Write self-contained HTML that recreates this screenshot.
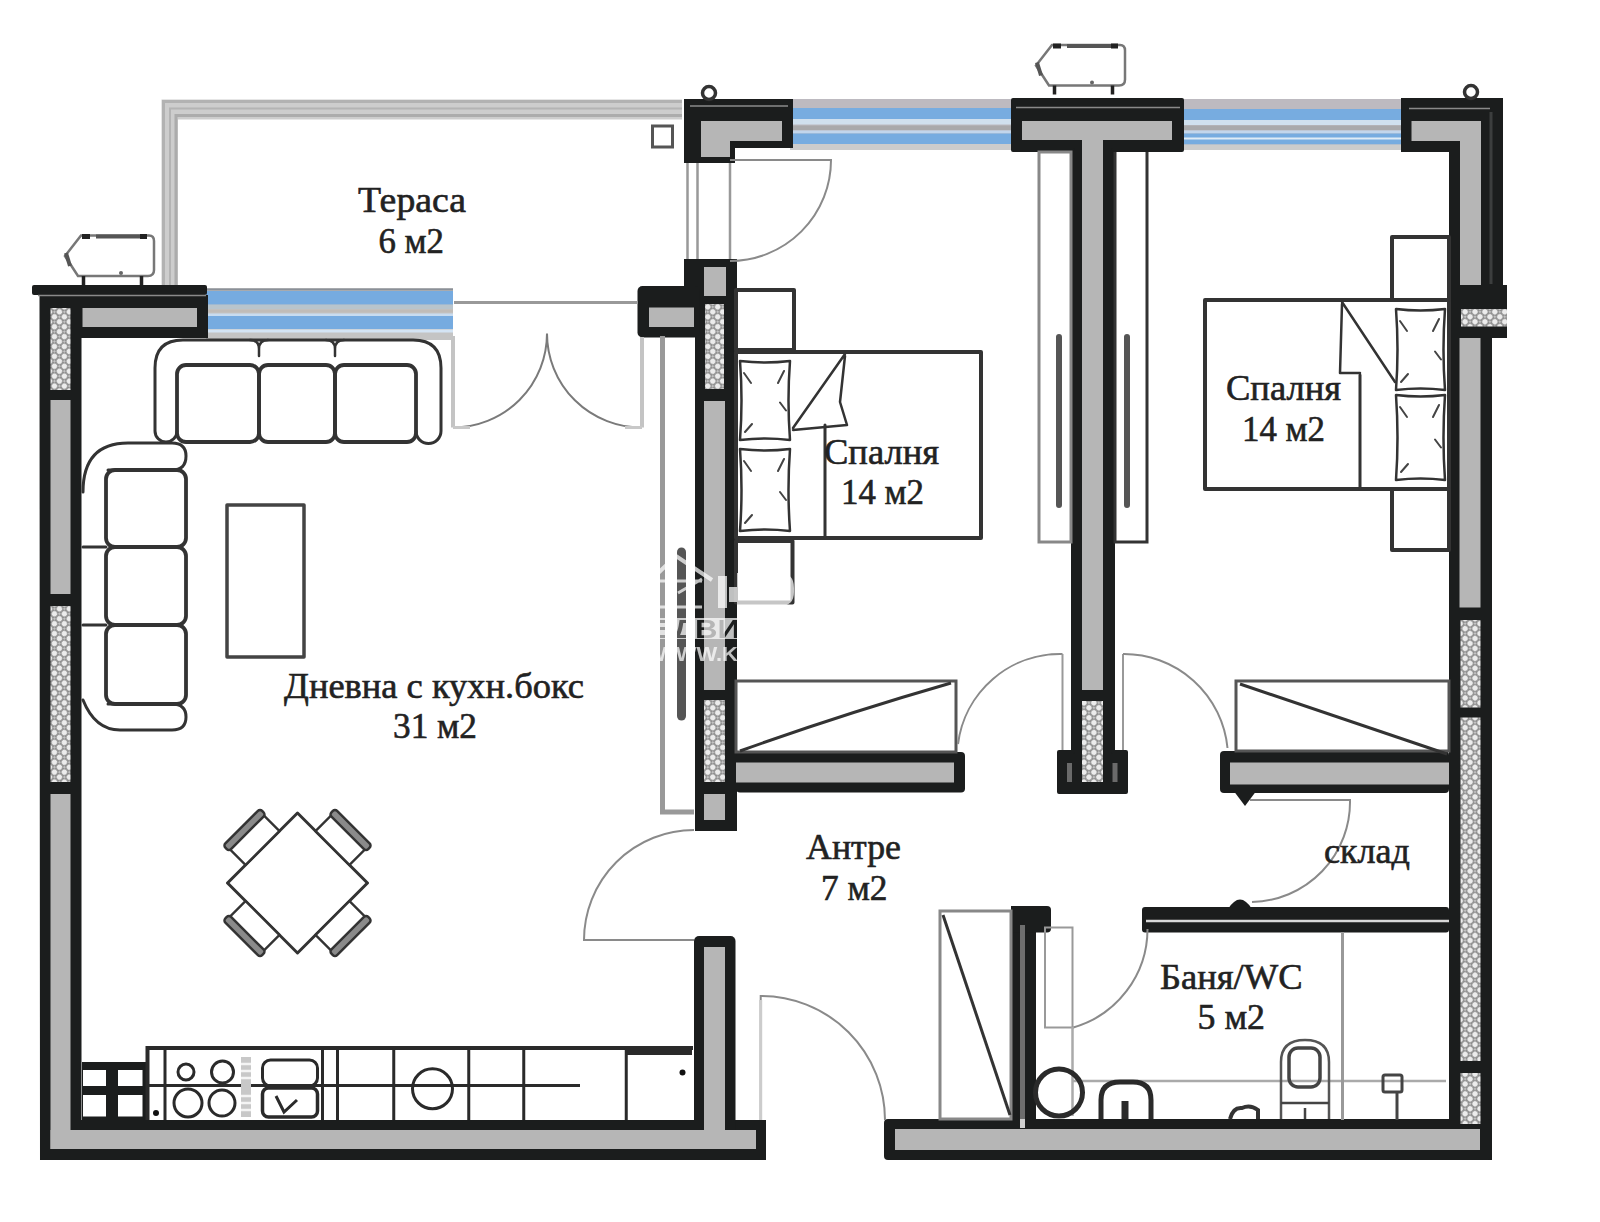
<!DOCTYPE html>
<html><head><meta charset="utf-8">
<style>
html,body{margin:0;padding:0;background:#fff;width:1600px;height:1222px;overflow:hidden}
svg{display:block}
text{font-family:"Liberation Serif",serif;fill:#222}
</style></head>
<body>
<svg width="1600" height="1222" viewBox="0 0 1600 1222">
<defs>
<pattern id="h" width="7" height="7" patternUnits="userSpaceOnUse" patternTransform="rotate(45)">
<rect width="7" height="7" fill="#8e8e8e"/>
<circle cx="3.5" cy="3.5" r="2.7" fill="#ececec"/>
<circle cx="0" cy="0" r="1.1" fill="#cfcfcf"/><circle cx="7" cy="7" r="1.1" fill="#cfcfcf"/><circle cx="7" cy="0" r="1.1" fill="#cfcfcf"/><circle cx="0" cy="7" r="1.1" fill="#cfcfcf"/>
</pattern>
</defs>
<rect width="1600" height="1222" fill="#fff"/>

<!-- ===== TERRACE RAILING ===== -->
<g id="railing">
<path d="M161.5 285V99.5H682V119.5H178V285Z" fill="#cdcdcd"/>
<path d="M163.5 285V101.5H682" fill="none" stroke="#b2b2b2" stroke-width="3"/>
<path d="M170 285V108.5H682" fill="none" stroke="#b4b4b4" stroke-width="2"/>
<path d="M176 285V115.5H682" fill="none" stroke="#acacac" stroke-width="3"/>
</g>

<!-- ===== WINDOWS ===== -->
<g id="windows">
<rect x="206" y="288" width="247" height="52" fill="#c4c4c4"/>
<rect x="206" y="288.5" width="247" height="2" fill="#8a9098"/>
<rect x="206" y="291" width="247" height="13.5" fill="#76abe0"/>
<rect x="206" y="305" width="247" height="4" fill="#b8c4cc"/>
<rect x="206" y="309.5" width="247" height="3" fill="#c0bcb8"/>
<rect x="206" y="313.5" width="247" height="2.5" fill="#c8dcf0"/>
<rect x="206" y="316" width="247" height="13" fill="#76abe0"/>
<rect x="206" y="329.5" width="247" height="3" fill="#d4e4f4"/>

<rect x="790" y="99" width="224" height="51" fill="#bdbac0"/>
<rect x="790" y="108" width="224" height="11" fill="#77ace0"/>
<rect x="790" y="119" width="224" height="5.5" fill="#d0e0ee"/>
<rect x="790" y="125.5" width="224" height="4.5" fill="#a9a9ab"/>
<rect x="790" y="130.5" width="224" height="3" fill="#c2d6ec"/>
<rect x="790" y="133.5" width="224" height="10.5" fill="#77ace0"/>
<rect x="790" y="144" width="224" height="6" fill="#cccccc"/>

<rect x="1180" y="99" width="225" height="51" fill="#bdbac0"/>
<rect x="1180" y="109" width="225" height="11" fill="#77ace0"/>
<rect x="1180" y="120" width="225" height="5" fill="#d0e0ee"/>
<rect x="1180" y="125.5" width="225" height="4.5" fill="#a9a9ab"/>
<rect x="1180" y="130.5" width="225" height="3" fill="#c2d6ec"/>
<rect x="1180" y="133.5" width="225" height="11" fill="#77ace0"/>
<rect x="1180" y="137.5" width="225" height="2" fill="#e0ecf6"/>
<rect x="1180" y="144.5" width="225" height="5.5" fill="#cccccc"/>
</g>

<!-- ===== WALLS (dark) ===== -->
<g id="walls" fill="#1b1d1d">
<!-- living room top + left + bottom -->
<rect x="32" y="285" width="175" height="10" rx="2"/>
<path d="M39.5 295H208V338H81.5V1120H766V1160H40Z"/>
<!-- living entry lower jamb -->
<rect x="694" y="936" width="41.5" height="200" rx="5"/>
<!-- bedroom1 left wall -->
<path d="M684 259H737V831H695V287H684Z"/>
<rect x="637.5" y="286" width="62" height="51.5" rx="5"/>
<!-- top L piece -->
<path d="M684 99H793V148H735V163H684Z"/>
<!-- T wall -->
<path d="M1013 100H1182V150H1113V752H1126V792H1059V752H1073V150H1013Z" stroke="#1b1d1d" stroke-width="4" stroke-linejoin="round"/>
<!-- top right corner + right wall -->
<path d="M1401 98H1503V285H1507V338H1492V1160H1449V152H1401Z"/>
<!-- bottom right wall -->
<rect x="884" y="1119" width="608" height="41" rx="4"/>
<!-- bedroom1 bottom stub -->
<rect x="736" y="752" width="229" height="40.5" rx="4"/>
<!-- bedroom2 bottom stub -->
<rect x="1220" y="751" width="229" height="42" rx="4"/>
<path d="M1233 790L1245 806L1257 790Z"/>
<!-- storage/bath partition -->
<rect x="1142" y="907" width="307" height="25.5" rx="3"/>
<path d="M1228 909Q1240 890 1252 909Z"/>
<!-- bathroom left wall -->
<rect x="1011" y="906" width="25" height="214"/>
<rect x="1011" y="906" width="40" height="26.5" rx="4"/>
</g>

<!-- ===== WALL INNER (gray / hatch) ===== -->
<g id="wallfill" fill="#b6b6b6">
<rect x="82.5" y="308" width="114.5" height="19"/>
<rect x="50.5" y="308" width="20" height="82" fill="url(#h)"/>
<rect x="50.5" y="400" width="20" height="194"/>
<rect x="50.5" y="606" width="20" height="176" fill="url(#h)"/>
<rect x="50.5" y="794" width="20" height="355"/>
<rect x="50.5" y="1130" width="705.5" height="19"/>
<rect x="704" y="947" width="21" height="190"/>

<rect x="704" y="267" width="22" height="29"/>
<rect x="649" y="307.5" width="45" height="19.5"/>
<rect x="705" y="304" width="19" height="85" fill="url(#h)"/>
<rect x="704" y="401" width="21" height="289"/>
<rect x="704" y="700" width="21" height="82" fill="url(#h)"/>
<rect x="704" y="794" width="21" height="26"/>

<path d="M701 121H782V141H730V157H701Z"/>

<rect x="1022" y="121" width="150" height="19"/>
<rect x="1082" y="140" width="21" height="550"/>
<rect x="1082" y="701" width="21" height="81" fill="url(#h)"/>

<path d="M1411.5 121H1481V285H1460V141H1411.5Z"/>
<rect x="1461" y="309" width="46" height="17.5" fill="url(#h)"/>
<rect x="1459.5" y="338" width="21" height="269.5"/>
<rect x="1460.5" y="620" width="20" height="87.5" fill="url(#h)"/>
<rect x="1460.5" y="717.5" width="20" height="343.5" fill="url(#h)"/>
<rect x="1460.5" y="1073" width="20" height="51" fill="url(#h)"/>
<rect x="895" y="1129" width="585" height="21"/>

<rect x="736" y="762.5" width="218" height="20"/>
<rect x="1230" y="762.5" width="219" height="22"/>
</g>
<!-- top wall light lines -->
<path d="M1016 107.5H1180M1409 108.5H1490M690 106H788M38 295.5H206" fill="none" stroke="#8a8a8a" stroke-width="1.5"/>
<path d="M1491 112V284" fill="none" stroke="#3c3e3e" stroke-width="3"/>
<path d="M1069.5 763V782M1115 763V782" stroke="#6a6a6a" stroke-width="5"/>
<path d="M1022.5 925V1119" stroke="#6e6e6e" stroke-width="5"/>
<path d="M1022.5 1119V1128" stroke="#d0d0d0" stroke-width="5"/>
<path d="M1146 921H1449" stroke="#d8d8d8" stroke-width="2.5"/>


<!-- ===== FURNITURE ===== -->
<g id="furn" fill="none" stroke="#333" stroke-width="3" stroke-linejoin="round" stroke-linecap="round">
<!-- top sofa -->
<path d="M177 431A11 11 0 0 1 155 431V368Q155 340 183 340H413Q441 340 441 368V431A12.5 12.5 0 0 1 416 431"/>
<rect stroke-width="3.8" x="177" y="365" width="82" height="77" rx="9"/>
<rect stroke-width="3.8" x="259" y="365" width="76" height="77" rx="9"/>
<rect stroke-width="3.8" x="335" y="365" width="81" height="77" rx="9"/>
<path d="M250 340Q259 340 259 349Q259 340 268 340M326 340Q335 340 335 349Q335 340 344 340M259 349V356M335 349V356" stroke-width="2.5"/>
<!-- left sofa -->
<path d="M83 492Q83 443 128 443H172Q186 443 186 456Q186 470 172 470H108"/>
<rect stroke-width="3.8" x="106" y="470" width="80" height="77" rx="9"/>
<rect stroke-width="3.8" x="106" y="547" width="80" height="78" rx="9"/>
<rect stroke-width="3.8" x="106" y="625" width="80" height="79" rx="9"/>
<path d="M83 547H106M83 625H106"/>
<path d="M83 700Q95 730 120 730H172Q186 730 186 717Q186 704 172 704H108"/>
<!-- coffee table -->
<rect x="227" y="505" width="77" height="152" stroke="#444" stroke-width="3.5"/>
<!-- dining table -->
<g transform="translate(297.5 883) rotate(45)">
<rect x="-49.5" y="-49.5" width="99" height="99" stroke-width="3"/>
<g id="ch"><rect x="-24" y="-76" width="48" height="26.5" stroke-width="2.5" fill="#fff"/><rect x="-26" y="-79" width="52" height="8" rx="3" stroke-width="2.5" fill="#8a8a8a"/></g>
<use href="#ch" transform="rotate(90)"/>
<use href="#ch" transform="rotate(180)"/>
<use href="#ch" transform="rotate(270)"/>
</g>
<!-- beds -->
<rect x="736" y="352" width="245" height="186" stroke-width="4"/>
<path d="M825 425V538" stroke-width="3"/>
<path d="M845 354L793 428M845 356L840 402L847 425L793 430" stroke-width="2.5"/>
<path d="M740 361Q765.0 364 790 361Q787 400.5 790 440Q765.0 437 740 440Q743 400.5 740 361Z" stroke-width="2.5"/>
<path d="M744 373L751 383M786 410.5L780 402.5M784 371L778 383M745 432L752 424" stroke-width="2" stroke="#444"/>
<path d="M740 449Q765.0 452 790 449Q787 490.0 790 531Q765.0 528 740 531Q743 490.0 740 449Z" stroke-width="2.5"/>
<path d="M744 461L751 471M786 500.0L780 492.0M784 459L778 471M745 523L752 515" stroke-width="2" stroke="#444"/>
<rect x="736" y="290" width="58" height="60" stroke-width="4"/>
<rect x="736" y="541" width="56.5" height="61.5" stroke-width="4"/>

<rect x="1205" y="300" width="244" height="189" stroke-width="4"/>
<path d="M1360 375V489" stroke-width="3"/>
<path d="M1342 302L1395 382M1342 304L1340 373H1360" stroke-width="2.5"/>
<path d="M1396 309Q1420.5 312 1445 309Q1442 349.5 1445 390Q1420.5 387 1396 390Q1399 349.5 1396 309Z" stroke-width="2.5"/>
<path d="M1400 321L1407 331M1441 359.5L1435 351.5M1439 319L1433 331M1401 382L1408 374" stroke-width="2" stroke="#444"/>
<path d="M1396 395Q1420.5 398 1445 395Q1442 437.5 1445 480Q1420.5 477 1396 480Q1399 437.5 1396 395Z" stroke-width="2.5"/>
<path d="M1400 407L1407 417M1441 447.5L1435 439.5M1439 405L1433 417M1401 472L1408 464" stroke-width="2" stroke="#444"/>
<rect x="1392" y="237" width="57" height="63" stroke-width="4"/>
<rect x="1392" y="489" width="57" height="61" stroke-width="4"/>
</g>
<g id="wardrobes" fill="none" stroke="#555" stroke-width="3">
<rect x="1039" y="152" width="32" height="390" stroke="#888"/>
<path d="M1115 152V542H1147V152" stroke="#333"/>
<path d="M1059 337V505M1127 337V505" stroke="#555" stroke-width="6" stroke-linecap="round"/>
<rect x="736" y="681" width="220" height="71"/>
<path d="M740 751Q840 715 951 683" stroke="#333"/>
<rect x="1236" y="681" width="213" height="70"/>
<path d="M1240 684L1447 754" stroke="#333"/>
<path d="M662.5 336V812H694" stroke="#999" stroke-width="5"/>
<path d="M681.5 552V716" stroke="#555" stroke-width="9" stroke-linecap="round"/>
<rect x="940" y="911" width="71" height="208" stroke="#888"/>
<path d="M943 915L1010 1115" stroke="#333"/>
</g>

<!-- ===== DOORS ===== -->
<g id="doors" fill="none" stroke="#8a8a8a" stroke-width="2">
<path d="M730 160H831A101 101 0 0 1 730 261"/>
<path d="M687.5 163V259M697.5 163V259M730 163V259" stroke="#999" stroke-width="2.5"/>
<path d="M454 302.5H638" stroke="#999" stroke-width="3"/>
<path d="M453 427.5A94 94 0 0 0 547 333.5A94 94 0 0 0 642 427.5" stroke="#7a7a7a" stroke-width="2"/>
<path d="M453 336V427.5M642 337V427.5" stroke="#c4c4c4" stroke-width="4"/>
<path d="M453 427.5H470M625 427.5H642" stroke="#c8c8c8" stroke-width="3"/>
<path d="M694 830A110 110 0 0 0 584 940H694" />
<path d="M760.7 1120V996A124 124 0 0 1 885 1120"/>
<path d="M760.7 1000V1120" stroke="#ccc" stroke-width="3"/>
<path d="M958 744A103 103 0 0 1 1062.5 654"/>
<path d="M1062.5 654V750M1123 654V750" stroke="#999" stroke-width="2"/>
<path d="M1123 654A104 104 0 0 1 1227.5 748"/>
<path d="M1250 800H1350A100 100 0 0 1 1252 902"/>
<path d="M1147.5 929A102.5 102.5 0 0 1 1072.5 1027.7"/>
<rect x="1045" y="927.5" width="27.5" height="100" stroke="#999"/>
<path d="M1072.5 1027V1116" stroke="#aaa" stroke-width="2.5"/>
</g>
<!-- ===== KITCHEN ===== -->
<g id="kitchen" fill="none" stroke="#2a2a2a" stroke-width="3">
<rect x="82" y="1062" width="65" height="58" fill="#1b1d1d" stroke="none"/>
<rect x="83" y="1070" width="23" height="16" fill="#fff" stroke="none"/>
<rect x="118" y="1070" width="24.5" height="16" fill="#fff" stroke="none"/>
<rect x="83" y="1095" width="23" height="21.5" fill="#fff" stroke="none"/>
<rect x="118" y="1095" width="24.5" height="21.5" fill="#fff" stroke="none"/>
<path d="M147.5 1120V1048H693" stroke-width="4"/>
<path d="M147.5 1085.5H580"/>
<path d="M165 1048V1120M322.5 1048V1120M337.5 1048V1120M393.75 1048V1120M468.75 1048V1120M523.75 1048V1120M626.25 1048V1120"/>
<circle cx="186" cy="1072" r="8"/>
<circle cx="222.5" cy="1072" r="11"/>
<circle cx="188" cy="1103" r="14"/>
<circle cx="222" cy="1103" r="13"/>
<rect x="262.5" y="1060" width="55" height="26" rx="8"/>
<rect x="262.5" y="1088" width="55" height="29" rx="6" stroke-width="3.5"/>
<path d="M276 1096L284 1112L297 1100" stroke-width="3"/>
<circle cx="432.5" cy="1088.75" r="20" stroke-width="3"/>
<path d="M626 1051.5H692" stroke-width="7"/>
<circle cx="682.5" cy="1072.5" r="3" fill="#111" stroke="none"/>
<circle cx="156" cy="1113" r="3" fill="#111" stroke="none"/>
<rect x="241" y="1057" width="10" height="60" fill="#c8c8c8" stroke="none"/>
<path d="M241 1064H251M241 1071H251M241 1078H251M241 1096H251M241 1103H251M241 1110H251" stroke="#f4f4f4" stroke-width="2.5"/>
</g>
<!-- ===== BATHROOM ===== -->
<g id="bath" fill="none" stroke="#2a2a2a" stroke-width="3">
<path d="M1072.5 1081H1446" stroke="#aaa" stroke-width="2.5"/>
<path d="M1342.5 932V1120" stroke="#999" stroke-width="3"/>
<circle cx="1059" cy="1092.5" r="23.5" stroke-width="5"/>
<path d="M1101 1119V1100Q1101 1082 1120 1082H1133Q1151 1082 1151 1100V1119" stroke-width="5"/>
<path d="M1125 1101V1119" stroke-width="7"/>
<path d="M1281 1119V1062Q1281 1040 1305 1040Q1329 1040 1329 1062V1119" stroke="#555" stroke-width="2.5"/>
<rect x="1289" y="1048" width="31" height="39" rx="9" stroke="#444" stroke-width="3.5"/>
<path d="M1281 1103H1329M1305 1108V1119" stroke="#444" stroke-width="2.5"/>
<rect x="1383" y="1075" width="19" height="17" rx="2" stroke="#444" stroke-width="3"/>
<path d="M1397 1092V1120" stroke="#444" stroke-width="3"/>
<path d="M1230 1119Q1233 1107 1242 1108Q1250 1104 1258 1110V1119" stroke="#333" stroke-width="4"/>
</g>
<!-- ===== AC UNITS & KNOBS ===== -->
<g id="ac" fill="#fff" stroke="#333" stroke-width="2">
<g id="acu">
<path d="M81 235.5H149Q154 235.5 154 241V270Q154 276 148 276H78L65 256Z" stroke="#777" stroke-width="2.5"/>
<path d="M96 236.5H146" stroke="#555" stroke-width="4"/>
<path d="M82 236.5H90M140 236.5H147" stroke="#222" stroke-width="5"/>
<path d="M66 253L70 266" stroke="#555" stroke-width="4"/>
<path d="M83.5 276V285M141.5 276V285" stroke="#222" stroke-width="3.5"/>
<circle cx="121" cy="273" r="2" fill="#666" stroke="none"/>
</g>
<use href="#acu" transform="translate(971 -190.5)"/>
<circle cx="709" cy="93" r="6.5" stroke-width="3.5"/>
<circle cx="1471" cy="92" r="6.5" stroke-width="3.5"/>
<rect x="652.5" y="126" width="20" height="21" stroke="#555" stroke-width="3"/>
</g>
<!-- ===== TEXT ===== -->
<g id="labels" font-size="36" stroke="#222" stroke-width="0.6">
<text x="358" y="211.5" textLength="108" lengthAdjust="spacingAndGlyphs">Тераса</text>
<text x="378.5" y="252.5" textLength="65.5" lengthAdjust="spacingAndGlyphs">6 м2</text>
<text x="824" y="464" textLength="115" lengthAdjust="spacingAndGlyphs">Спалня</text>
<text x="841" y="504" textLength="83" lengthAdjust="spacingAndGlyphs">14 м2</text>
<text x="1226" y="400" textLength="115" lengthAdjust="spacingAndGlyphs">Спалня</text>
<text x="1242" y="441" textLength="83" lengthAdjust="spacingAndGlyphs">14 м2</text>
<text x="284" y="697.5" textLength="300" lengthAdjust="spacingAndGlyphs">Дневна с кухн.бокс</text>
<text x="393" y="737.5" textLength="84" lengthAdjust="spacingAndGlyphs">31 м2</text>
<text x="806" y="859" textLength="95" lengthAdjust="spacingAndGlyphs">Антре</text>
<text x="821" y="900" textLength="66.5" lengthAdjust="spacingAndGlyphs">7 м2</text>
<text x="1324" y="862.5" textLength="86" lengthAdjust="spacingAndGlyphs">склад</text>
<text x="1160" y="988.75" textLength="142.5" lengthAdjust="spacingAndGlyphs">Баня/WC</text>
<text x="1197.5" y="1028.75" textLength="67.5" lengthAdjust="spacingAndGlyphs">5 м2</text>
</g>

<!-- ===== WATERMARK ===== -->
<defs>
<mask id="wmband"><rect x="640" y="540" width="200" height="140" fill="#fff"/>
<text x="652" y="638" font-size="25" textLength="88" lengthAdjust="spacingAndGlyphs" style="font-family:'Liberation Sans',sans-serif;font-weight:bold;fill:#000">ЕДВИ</text></mask>
</defs>
<g id="wm" fill="#fff" opacity="0.72">
<rect x="652" y="618" width="90" height="21" mask="url(#wmband)"/>
<text x="655" y="661" font-size="20" textLength="83" lengthAdjust="spacingAndGlyphs" style="font-family:'Liberation Sans',sans-serif;font-weight:bold;fill:#fff">WWW.K</text>
<path d="M655 576L676 556L712 580" fill="none" stroke="#fff" stroke-width="4"/>
<path d="M660 581H702M660 607H702M678 593L702 579" fill="none" stroke="#fff" stroke-width="3"/>
<rect x="718" y="576" width="9" height="32"/>
<rect x="729" y="587" width="14" height="15"/>
<path d="M740 576H780Q791 576 791 588V592Q791 603 780 603H740Z" fill="none" stroke="#fff" stroke-width="6"/>
</g>
</svg>
</body></html>
